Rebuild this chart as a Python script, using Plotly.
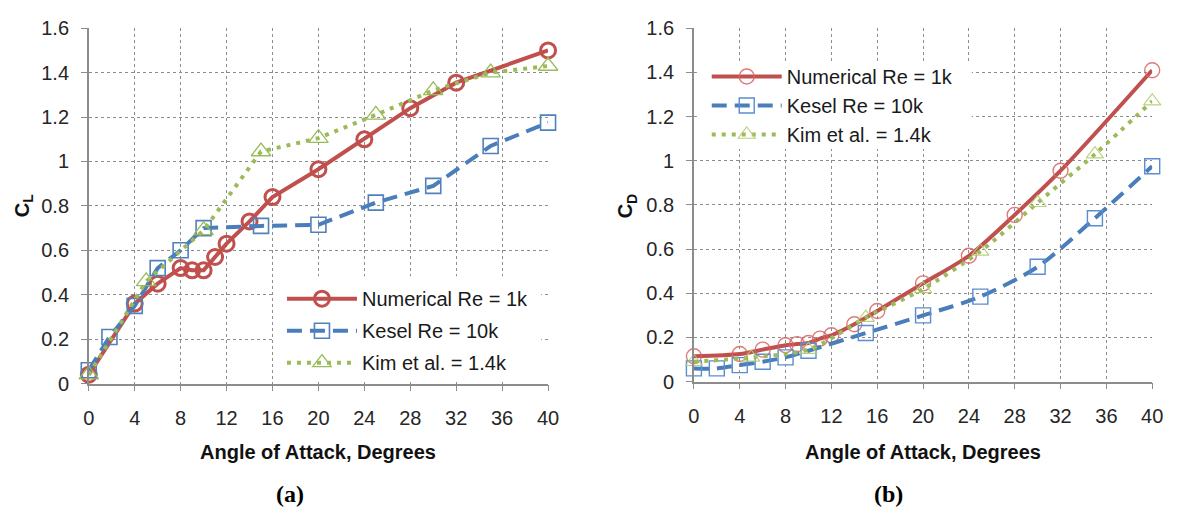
import plotly.graph_objects as go

# ---- lift coefficient data ----
num_cl_aoa = [0, 4, 6, 8, 9, 10, 11, 12, 14, 16, 20, 24, 28, 32, 40]
num_cl = [0.04, 0.36, 0.45, 0.52, 0.51, 0.51, 0.57, 0.63, 0.73, 0.84, 0.965, 1.10, 1.24, 1.355, 1.50]

kesel_cl_aoa = [0, 1.8, 4, 6, 8, 10, 15, 20, 25, 30, 35, 40]
kesel_cl = [0.06, 0.21, 0.35, 0.52, 0.60, 0.70, 0.71, 0.715, 0.815, 0.89, 1.07, 1.175]

kim_cl_aoa = [0, 5, 10, 15, 20, 25, 30, 35, 40]
kim_cl = [0.04, 0.46, 0.69, 1.045, 1.105, 1.21, 1.32, 1.40, 1.43]

# ---- drag coefficient data ----
num_cd_aoa = [0, 4, 6, 8, 9, 10, 11, 12, 14, 16, 20, 24, 28, 32, 40]
num_cd = [0.115, 0.125, 0.145, 0.165, 0.17, 0.175, 0.195, 0.21, 0.26, 0.32, 0.445, 0.57, 0.755, 0.955, 1.41]

kesel_cd_aoa = [0, 2, 4, 6, 8, 10, 15, 20, 25, 30, 35, 40]
kesel_cd = [0.06, 0.06, 0.075, 0.09, 0.11, 0.14, 0.22, 0.30, 0.385, 0.52, 0.74, 0.975]

kim_cd_aoa = [0, 5, 10, 15, 20, 25, 30, 35, 40]
kim_cd = [0.09, 0.11, 0.145, 0.29, 0.42, 0.59, 0.81, 1.03, 1.27]

x_ticks = list(range(0, 41, 4))
y_ticks = [0, 0.2, 0.4, 0.6, 0.8, 1.0, 1.2, 1.4, 1.6]
y_tick_text = ["0", "0.2", "0.4", "0.6", "0.8", "1", "1.2", "1.4", "1.6"]

series_names = ["Numerical Re = 1k", "Kesel Re = 10k", "Kim et al. = 1.4k"]

W, H = 1177, 521
RED = "#C0504D"
BLUE = "#4A7EBB"
GREEN = "#9BBB59"
FONT = "Liberation Sans, Arial, sans-serif"
X_RANGE = [0, 40]
Y_RANGE = [0, 1.6]

# plot-area edges in page pixels: (left, right, top, bottom)
PANEL_A = (84, 550, 18, 389)
PANEL_B = (698, 1163, 18, 387)


def px_x(p):
    return p / W


def px_y(p):
    return 1 - p / H


def px_to_data(panel, px, py):
    """Page pixel -> data coordinates of the given panel."""
    left, right, top, bottom = panel
    dx = X_RANGE[0] + (px - left) / (right - left) * (X_RANGE[1] - X_RANGE[0])
    dy = Y_RANGE[0] + (bottom - py) / (bottom - top) * (Y_RANGE[1] - Y_RANGE[0])
    return dx, dy


fig = go.Figure()

# lift panel
fig.add_trace(go.Scatter(
    x=num_cl_aoa, y=num_cl, name=series_names[0], mode="lines+markers",
    line=dict(color=RED, width=4),
    marker=dict(symbol="circle-open", size=15, color=RED, line=dict(width=3, color=RED)),
    xaxis="x", yaxis="y", legend="legend", legendgroup="a1", cliponaxis=False))
fig.add_trace(go.Scatter(
    x=kesel_cl_aoa, y=kesel_cl, name=series_names[1], mode="lines+markers",
    line=dict(color=BLUE, width=4, dash="15px,8px"),
    marker=dict(symbol="square-open", size=15, color="#4F81BD", line=dict(width=1.6, color="#4F81BD")),
    xaxis="x", yaxis="y", legend="legend", legendgroup="a2", cliponaxis=False))
fig.add_trace(go.Scatter(
    x=kim_cl_aoa, y=kim_cl, name=series_names[2], mode="lines+markers",
    line=dict(color=GREEN, width=4, dash="4px,6px"),
    marker=dict(symbol="triangle-up-open", size=17, color=GREEN, line=dict(width=1.3, color=GREEN)),
    xaxis="x", yaxis="y", legend="legend", legendgroup="a3", cliponaxis=False))

# drag panel
fig.add_trace(go.Scatter(
    x=num_cd_aoa, y=num_cd, name=series_names[0], mode="lines+markers",
    line=dict(color=RED, width=4, shape="spline", smoothing=0.8),
    marker=dict(symbol="circle-open", size=15, color="rgba(215,100,100,0.85)",
                line=dict(width=1.4, color="rgba(215,100,100,0.85)")),
    xaxis="x2", yaxis="y2", legend="legend2", legendgroup="b1", cliponaxis=False))
fig.add_trace(go.Scatter(
    x=kesel_cd_aoa, y=kesel_cd, name=series_names[1], mode="lines+markers",
    line=dict(color=BLUE, width=4, dash="15px,8px", shape="spline", smoothing=0.8),
    marker=dict(symbol="square-open", size=15, color="#5B8DD0", line=dict(width=1.4, color="#5B8DD0")),
    xaxis="x2", yaxis="y2", legend="legend2", legendgroup="b2", cliponaxis=False))
fig.add_trace(go.Scatter(
    x=kim_cd_aoa, y=kim_cd, name=series_names[2], mode="lines+markers",
    line=dict(color=GREEN, width=4, dash="4px,6px", shape="spline", smoothing=0.8),
    marker=dict(symbol="triangle-up-open", size=15, color="rgba(175,205,110,0.9)",
                line=dict(width=1.1, color="rgba(175,205,110,0.9)")),
    xaxis="x2", yaxis="y2", legend="legend2", legendgroup="b3", cliponaxis=False))

axis_common = dict(
    showgrid=True, gridcolor="#8c8c8c", griddash="dot", gridwidth=1,
    showline=True, linecolor="#8c8c8c", linewidth=1.5,
    ticks="outside", ticklen=6, tickcolor="#8c8c8c", tickwidth=1,
    zeroline=False, tickfont=dict(family=FONT, size=20, color="#262626"),
)

legend_font = dict(family=FONT, size=20, color="#1a1a1a")

fig.update_layout(
    width=W, height=H,
    margin=dict(l=0, r=0, t=0, b=0),
    paper_bgcolor="white", plot_bgcolor="white",
    font=dict(family=FONT, color="#1a1a1a"),
    xaxis=dict(domain=[px_x(PANEL_A[0]), px_x(PANEL_A[1])], range=X_RANGE, tickvals=x_ticks,
               anchor="y", ticklabelstandoff=10, **axis_common),
    yaxis=dict(domain=[px_y(PANEL_A[3]), px_y(PANEL_A[2])], range=Y_RANGE, tickvals=y_ticks,
               ticktext=y_tick_text, anchor="x", ticklabelstandoff=8, **axis_common),
    xaxis2=dict(domain=[px_x(PANEL_B[0]), px_x(PANEL_B[1])], range=X_RANGE, tickvals=x_ticks,
                anchor="y2", ticklabelstandoff=10, **axis_common),
    yaxis2=dict(domain=[px_y(PANEL_B[3]), px_y(PANEL_B[2])], range=Y_RANGE, tickvals=y_ticks,
                ticktext=y_tick_text, anchor="x2", ticklabelstandoff=8, **axis_common),
    legend=dict(x=px_x(280), y=px_y(280), xanchor="left", yanchor="top",
                bgcolor="rgba(0,0,0,0)", borderwidth=0, itemwidth=70, tracegroupgap=3,
                font=legend_font, traceorder="grouped"),
    legend2=dict(x=px_x(711), y=px_y(48), xanchor="left", yanchor="top",
                 bgcolor="rgba(0,0,0,0)", borderwidth=0, itemwidth=70, tracegroupgap=0,
                 font=legend_font, traceorder="grouped"),
    showlegend=True,
)

# white panels behind each legend hide the grid there, but stay under the axis lines
a0 = px_to_data(PANEL_A, 272, 386)
a1 = px_to_data(PANEL_A, 543, 277)
b0 = px_to_data(PANEL_B, 701, 144)
b1 = px_to_data(PANEL_B, 980, 53)
fig.update_layout(shapes=[
    dict(type="rect", xref="x", yref="y", x0=a0[0], y0=a0[1], x1=a1[0], y1=a1[1],
         fillcolor="white", line=dict(width=0), layer="between"),
    dict(type="rect", xref="x2", yref="y2", x0=b0[0], y0=b0[1], x1=b1[0], y1=b1[1],
         fillcolor="white", line=dict(width=0), layer="between"),
])

title_font = dict(family=FONT, size=20, color="#111111")
annotations = [
    dict(text="<b>C<sub>L</sub></b>", x=px_x(18), y=px_y(203), textangle=-90, font=title_font),
    dict(text="<b>C<sub>D</sub></b>", x=px_x(630), y=px_y(203), textangle=-90, font=title_font),
    dict(text="<b>Angle of Attack, Degrees</b>", x=px_x(317), y=px_y(460), font=title_font),
    dict(text="<b>Angle of Attack, Degrees</b>", x=px_x(930), y=px_y(460), font=title_font),
    dict(text="<b>(a)</b>", x=px_x(288), y=px_y(504),
         font=dict(family="Liberation Serif, Times New Roman, serif", size=24, color="black")),
    dict(text="<b>(b)</b>", x=px_x(895), y=px_y(504),
         font=dict(family="Liberation Serif, Times New Roman, serif", size=24, color="black")),
]
for a in annotations:
    a.update(xref="paper", yref="paper", showarrow=False, xanchor="center", yanchor="middle")
fig.update_layout(annotations=annotations)

fig.write_html("out.html")
